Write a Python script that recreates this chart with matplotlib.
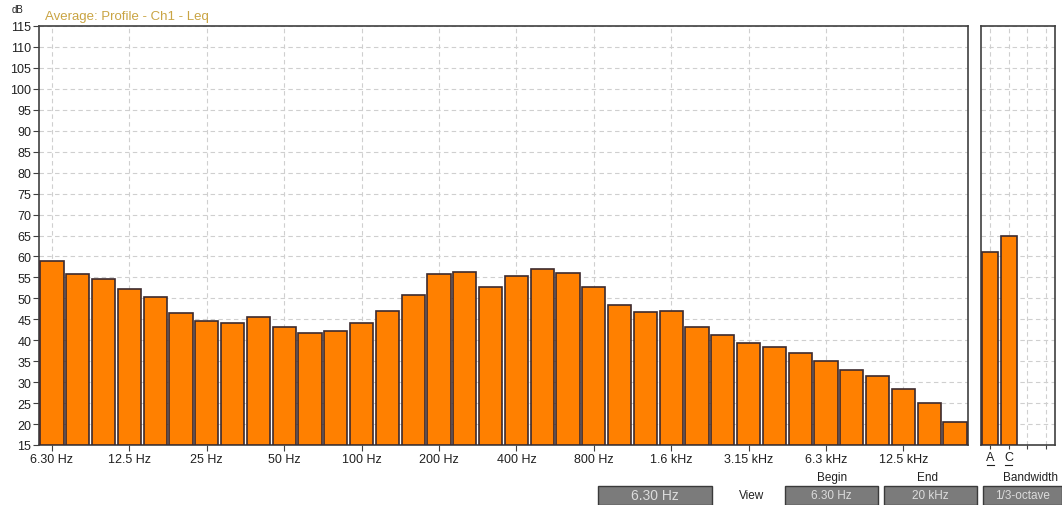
import numpy as np
import matplotlib.pyplot as plt
import matplotlib.transforms as mtransforms
from matplotlib.patches import Rectangle

plt.rcParams['font.family'] = ['Liberation Sans', 'DejaVu Sans']

# 1/3-octave bands 6.3 Hz .. 20 kHz
bands = ["6.30 Hz", "8 Hz", "10 Hz", "12.5 Hz", "16 Hz", "20 Hz", "25 Hz", "31.5 Hz",
         "40 Hz", "50 Hz", "63 Hz", "80 Hz", "100 Hz", "125 Hz", "160 Hz", "200 Hz",
         "250 Hz", "315 Hz", "400 Hz", "500 Hz", "630 Hz", "800 Hz", "1 kHz", "1.25 kHz",
         "1.6 kHz", "2 kHz", "2.5 kHz", "3.15 kHz", "4 kHz", "5 kHz", "6.3 kHz", "8 kHz",
         "10 kHz", "12.5 kHz", "16 kHz", "20 kHz"]
leq = [58.9, 55.9, 54.5, 52.2, 50.3, 46.4, 44.5, 44.0, 45.5, 43.2, 41.7, 42.2,
       44.0, 47.1, 50.8, 55.7, 56.2, 52.6, 55.4, 57.0, 56.1, 52.6, 48.5, 46.7,
       47.1, 43.2, 41.3, 39.4, 38.3, 36.9, 35.0, 33.0, 31.5, 28.4, 25.1, 20.6]
tick_labels = ["6.30 Hz", "12.5 Hz", "25 Hz", "50 Hz", "100 Hz", "200 Hz", "400 Hz",
               "800 Hz", "1.6 kHz", "3.15 kHz", "6.3 kHz", "12.5 kHz"]

weight_names = ["A", "C"]
weight_vals = [61.0, 64.9]

y_min, y_max = 15, 115
bar_col = "#ff8000"
edge_col = "#3c2a2e"
grid_col = "#cfcfcf"
frame_col = "#404040"

fig = plt.figure(figsize=(10.62, 5.06), dpi=100)
ax = fig.add_axes([39 / 1062, 60 / 506, 929 / 1062, 419 / 506])
ax2 = fig.add_axes([981 / 1062, 60 / 506, 74 / 1062, 419 / 506])

x = np.arange(len(bands))
ax.bar(x, np.array(leq) - y_min, bottom=y_min, width=0.9, color=bar_col,
       edgecolor=edge_col, linewidth=1.2, zorder=3)
ax.set_xlim(-0.5, len(bands) - 0.5)
ax.set_ylim(y_min, y_max)
ax.set_yticks(np.arange(15, 116, 5))
tick_pos = [bands.index(t) for t in tick_labels]
ax.set_xticks(tick_pos)
ax.set_xticklabels(tick_labels)
ax.grid(True, color=grid_col, linestyle=(0, (4, 3)), linewidth=0.8, zorder=0)
ax.tick_params(axis='both', labelsize=9, length=4, color=frame_col, pad=1.5,
               labelcolor="#202020")
for s in ax.spines.values():
    s.set_color(frame_col)
    s.set_linewidth(1.2)

# A / C weighted totals
xs = np.arange(4)
ax2.bar(xs[:2], np.array(weight_vals) - y_min, bottom=y_min, width=0.85,
        color=bar_col, edgecolor=edge_col, linewidth=1.2, zorder=3)
ax2.set_xlim(-0.5, 3.5)
ax2.set_ylim(y_min, y_max)
ax2.set_yticks(np.arange(15, 116, 5))
ax2.set_yticklabels([])
ax2.set_xticks(xs)
ax2.set_xticklabels(weight_names + ["", ""])
ax2.grid(True, color=grid_col, linestyle=(0, (4, 3)), linewidth=0.8, zorder=0)
ax2.tick_params(axis='both', labelsize=9, length=3, color=frame_col, pad=1.5,
                labelcolor="#202020")
ax2.tick_params(axis='y', length=0)
for s in ax2.spines.values():
    s.set_color(frame_col)
    s.set_linewidth(1.2)
# underline the weighting letters
blend = mtransforms.blended_transform_factory(ax2.transData, ax2.transAxes)
for i in range(len(weight_names)):
    ax2.plot([i - 0.2, i + 0.2], [-0.047, -0.047], transform=blend, color="#202020",
             linewidth=0.8, clip_on=False)

# header
fig.text(12 / 1062, 1 - 10 / 506, "dB", fontsize=7, color="#202020", va='center')
fig.text(45 / 1062, 1 - 17 / 506, "Average: Profile - Ch1 - Leq", fontsize=9.5,
         color="#c9a443", va='center')

# footer controls
fig.text(832 / 1062, 1 - 478 / 506, "Begin", fontsize=8.5, ha='center', va='center', color="#202020")
fig.text(928 / 1062, 1 - 478 / 506, "End", fontsize=8.5, ha='center', va='center', color="#202020")
fig.text(1030 / 1062, 1 - 478 / 506, "Bandwidth", fontsize=8.5, ha='center', va='center', color="#202020")
fig.text(752 / 1062, 1 - 496 / 506, "View", fontsize=8.5, ha='center', va='center', color="#202020")

boxes = [(598, 712, "6.30 Hz", 10), (785, 878, "6.30 Hz", 8.5),
         (884, 977, "20 kHz", 8.5), (983, 1062, "1/3-octave", 8.5)]
for x0, x1, label, fs in boxes:
    fig.add_artist(Rectangle((x0 / 1062, 0), (x1 - x0) / 1062, 19 / 506,
                             transform=fig.transFigure, facecolor="#7b7b7b",
                             edgecolor="#3a3a3a", linewidth=1.0))
    fig.text((x0 + x1) / 2 / 1062, 9.5 / 506, label, fontsize=fs, ha='center',
             va='center', color="#dcdcdc")

fig.savefig("out.png", dpi=100, facecolor="white")
